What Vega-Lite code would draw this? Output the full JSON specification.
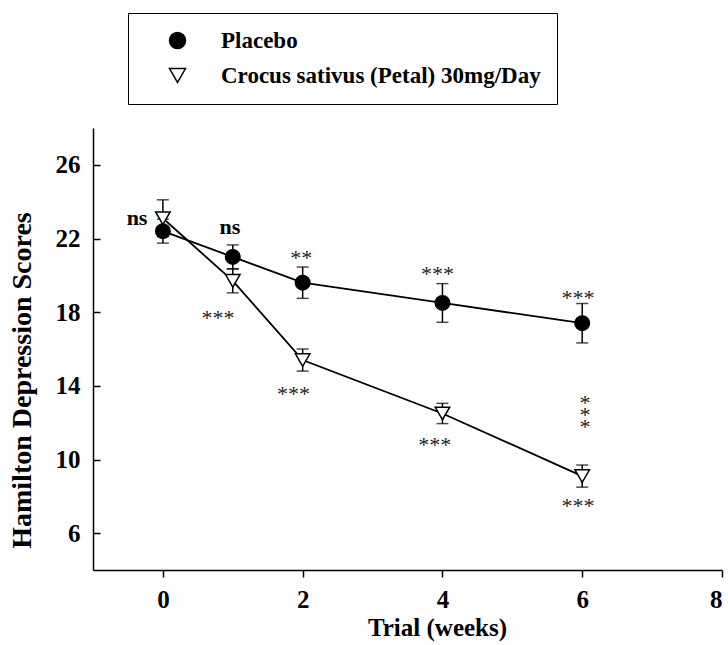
{
  "$schema": "https://vega.github.io/schema/vega-lite/v6.json",
  "autosize": "none",
  "width": 629,
  "height": 442,
  "padding": {"left": 93, "top": 128, "right": 6, "bottom": 75},
  "background": "white",
  "config": {
    "view": {"stroke": null},
    "font": "Liberation Serif",
    "axis": {
      "grid": false,
      "domainColor": "black",
      "domainWidth": 1.5,
      "tickColor": "black",
      "tickWidth": 1.5,
      "labelFont": "Liberation Serif",
      "labelFontWeight": "bold",
      "labelFontSize": 25,
      "labelColor": "black",
      "titleFont": "Liberation Serif",
      "titleFontWeight": "bold",
      "titleColor": "black"
    }
  },
  "datasets": {
    "scores": [
      {"week": 0, "group": "Placebo", "score": 22.4, "err": 0.65},
      {"week": 1, "group": "Placebo", "score": 21.0, "err": 0.65},
      {"week": 2, "group": "Placebo", "score": 19.6, "err": 0.85},
      {"week": 4, "group": "Placebo", "score": 18.5, "err": 1.05},
      {"week": 6, "group": "Placebo", "score": 17.4, "err": 1.07},
      {"week": 0, "group": "Crocus sativus (Petal) 30mg/Day", "score": 23.1, "err": 1.0},
      {"week": 1, "group": "Crocus sativus (Petal) 30mg/Day", "score": 19.7, "err": 0.65},
      {"week": 2, "group": "Crocus sativus (Petal) 30mg/Day", "score": 15.4, "err": 0.6},
      {"week": 4, "group": "Crocus sativus (Petal) 30mg/Day", "score": 12.5, "err": 0.55},
      {"week": 6, "group": "Crocus sativus (Petal) 30mg/Day", "score": 9.1, "err": 0.6}
    ],
    "notes": [
      {"week": -0.37, "score": 22.71, "label": "ns"},
      {"week": 0.96, "score": 22.26, "label": "ns"},
      {"week": 1.98, "score": 20.58, "label": "**"},
      {"week": 3.93, "score": 19.67, "label": "***"},
      {"week": 5.94, "score": 18.4, "label": "***"},
      {"week": 0.79, "score": 17.32, "label": "***"},
      {"week": 1.87, "score": 13.15, "label": "***"},
      {"week": 3.89, "score": 10.43, "label": "***"},
      {"week": 5.94, "score": 7.08, "label": "***"},
      {"week": 6.04, "score": 12.71, "label": "*\n*\n*"}
    ]
  },
  "layer": [
    {
      "data": {"name": "scores"},
      "mark": {"type": "errorbar", "color": "black", "thickness": 1.5, "ticks": {"size": 12, "thickness": 1.5, "color": "black"}},
      "encoding": {
        "x": {"field": "week", "type": "quantitative", "scale": {"domain": [-1, 8]},
          "axis": {"values": [0, 2, 4, 6, 8], "format": "d", "tickSize": 7, "labelPadding": 10, "title": "Trial (weeks)", "titleFontSize": 25, "titlePadding": 3, "titleX": 344}},
        "y": {"field": "score", "type": "quantitative", "scale": {"domain": [4, 28]},
          "axis": {"values": [6, 10, 14, 18, 22, 26], "format": "d", "tickSize": -7, "labelPadding": 20, "title": "Hamilton Depression Scores", "titleFontSize": 28, "titleX": -63, "titleY": 252, "titleBaseline": "alphabetic", "titleAlign": "center", "titleAngle": 270}},
        "yError": {"field": "err"}
      }
    },
    {
      "data": {"name": "scores"},
      "mark": {"type": "line", "color": "black", "strokeWidth": 1.8},
      "encoding": {
        "x": {"field": "week", "type": "quantitative"},
        "y": {"field": "score", "type": "quantitative"},
        "detail": {"field": "group"}
      }
    },
    {
      "data": {"name": "scores"},
      "mark": {"type": "point", "filled": true, "stroke": "black", "strokeWidth": 1.5, "opacity": 1},
      "encoding": {
        "x": {"field": "week", "type": "quantitative"},
        "y": {"field": "score", "type": "quantitative"},
        "shape": {"field": "group", "type": "nominal",
          "scale": {"domain": ["Placebo", "Crocus sativus (Petal) 30mg/Day"], "range": ["circle", "triangle-down"]}},
        "fill": {"field": "group", "type": "nominal",
          "scale": {"domain": ["Placebo", "Crocus sativus (Petal) 30mg/Day"], "range": ["black", "white"]},
          "legend": {
            "title": null,
            "orient": "none",
            "legendX": 35,
            "legendY": -115,
            "padding": 16,
            "strokeColor": "black",
            "fillColor": "white",
            "symbolSize": 256,
            "symbolOffset": 22,
            "labelOffset": 32,
            "rowPadding": 11,
            "labelFont": "Liberation Serif",
            "labelFontWeight": "bold",
            "labelFontSize": 23,
            "labelColor": "black",
            "labelLimit": 500,
            "symbolStrokeColor": "black",
            "symbolStrokeWidth": 1.5
          }},
        "size": {"value": 210}
      }
    },
    {
      "data": {"name": "notes"},
      "transform": [{"filter": "datum.label === 'ns'"}],
      "mark": {"type": "text", "font": "Liberation Serif", "fontWeight": "bold", "fontSize": 22, "baseline": "alphabetic", "align": "center", "color": "black"},
      "encoding": {
        "x": {"field": "week", "type": "quantitative"},
        "y": {"field": "score", "type": "quantitative"},
        "text": {"field": "label"}
      }
    },
    {
      "data": {"name": "notes"},
      "transform": [{"filter": "datum.label !== 'ns'"}],
      "mark": {"type": "text", "font": "Liberation Serif", "fontSize": 22, "baseline": "alphabetic", "align": "center", "color": "#222", "lineBreak": "\n", "lineHeight": 12},
      "encoding": {
        "x": {"field": "week", "type": "quantitative"},
        "y": {"field": "score", "type": "quantitative"},
        "text": {"field": "label"}
      }
    }
  ]
}
